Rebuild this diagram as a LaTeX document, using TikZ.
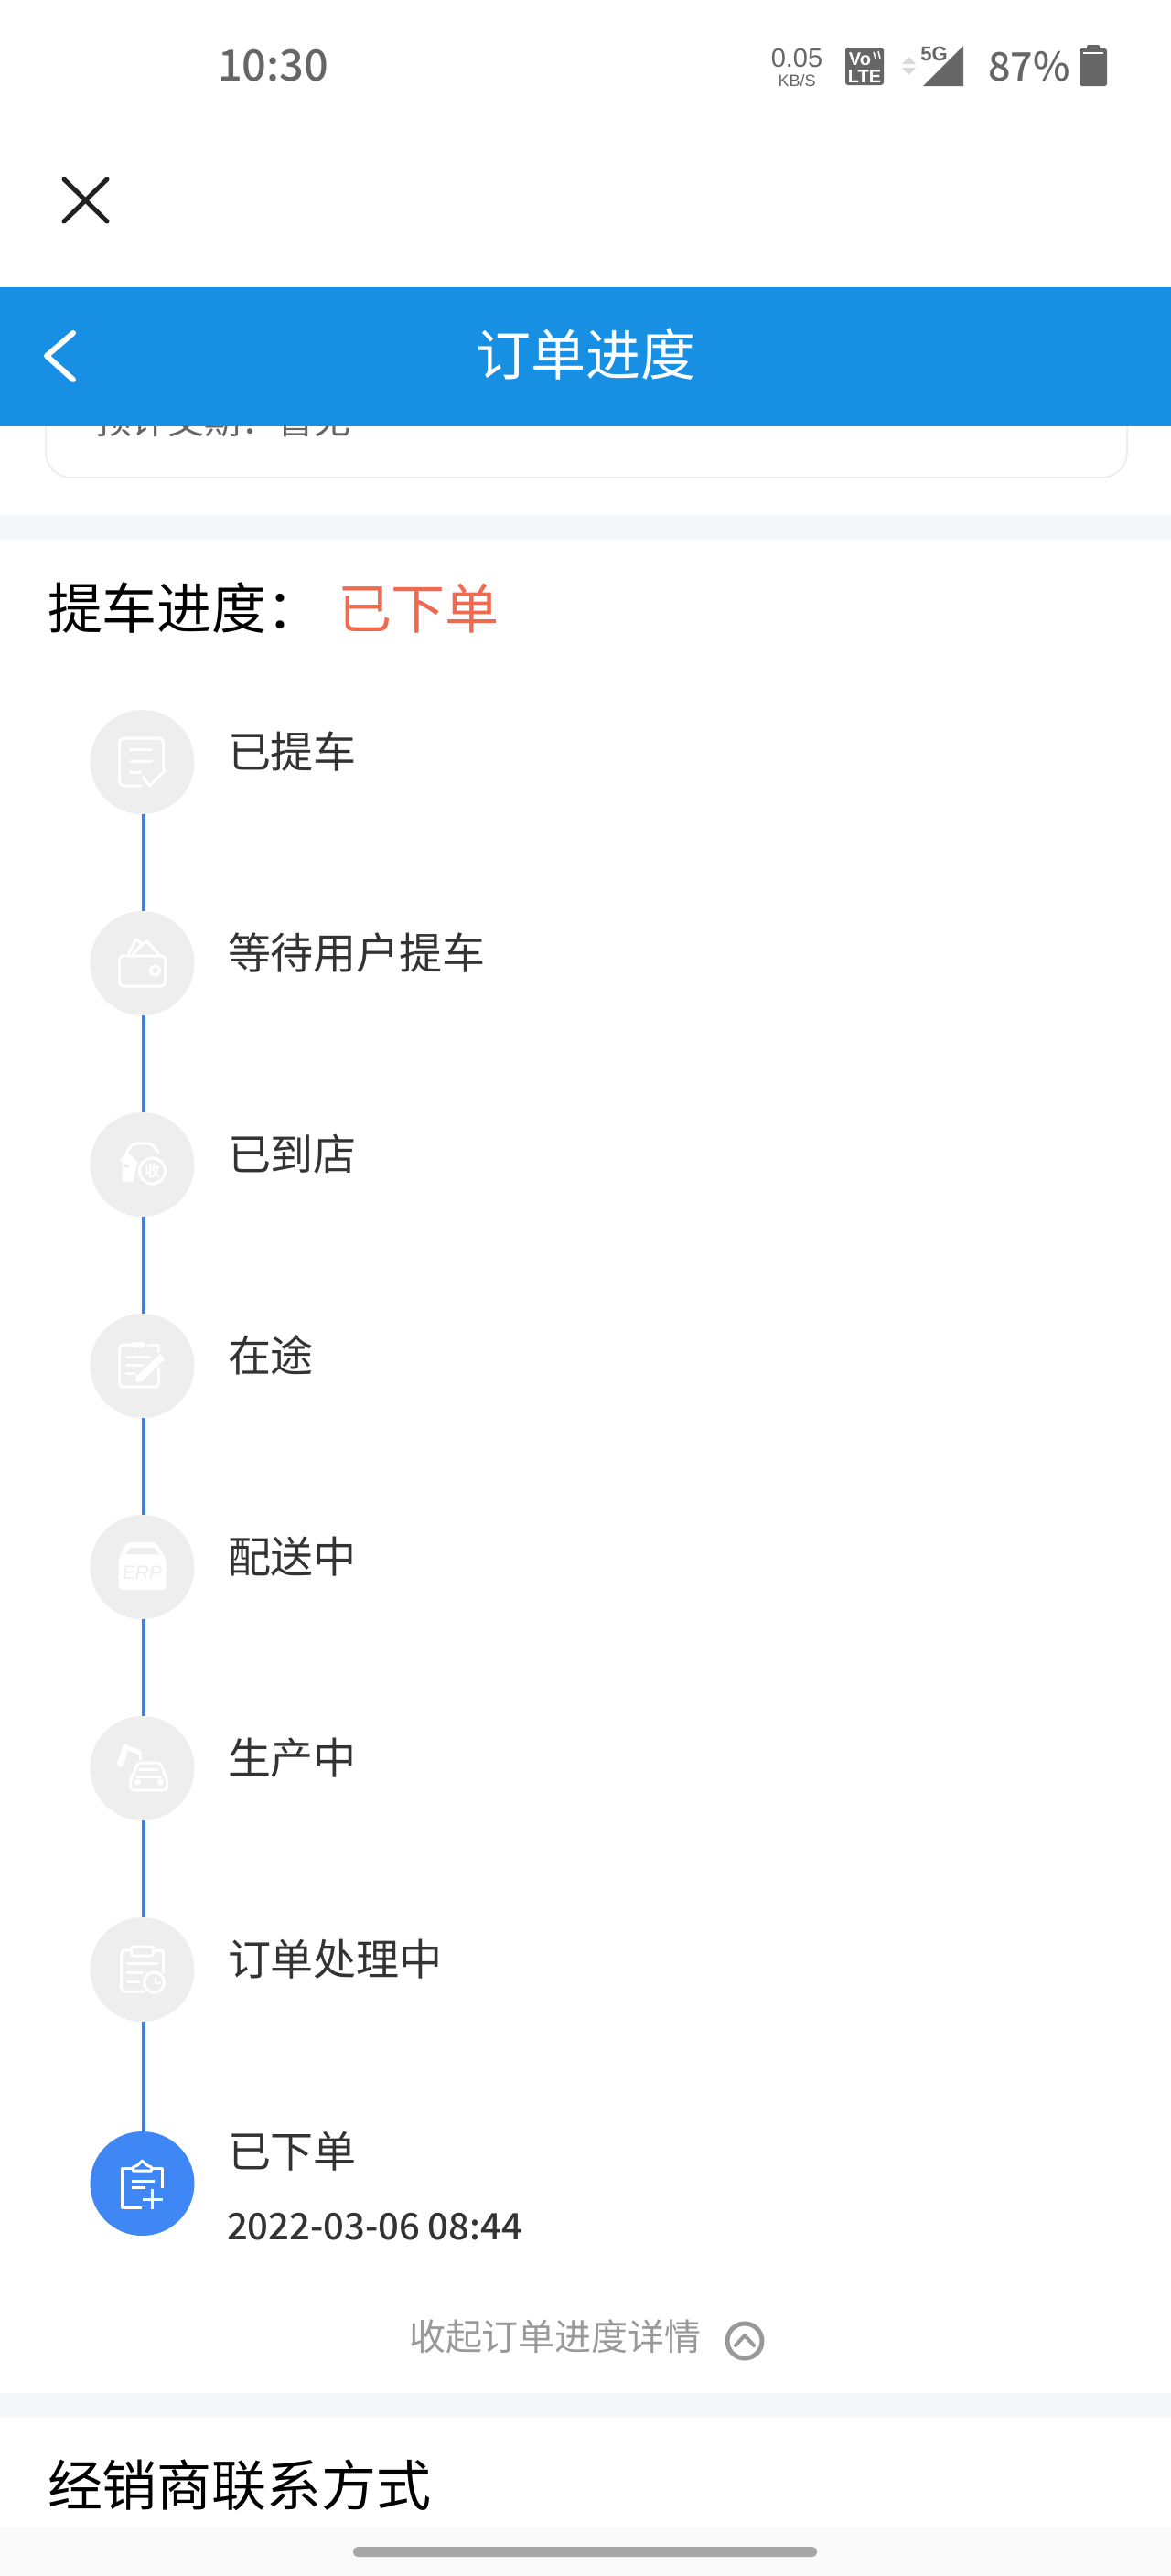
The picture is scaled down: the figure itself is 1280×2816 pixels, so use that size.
\documentclass[tikz,border=0pt]{standalone}
\usepackage{fontspec}
\setmainfont{Noto Sans CJK SC}
\newfontfamily\latinf{Liberation Sans}
\newfontfamily\latinm{Noto Sans CJK SC Medium}
\newfontfamily\cjkbold{Noto Sans CJK SC Bold}
\definecolor{hdrblue}{HTML}{1790E3}
\definecolor{linkblue}{HTML}{3D7FE8}
\definecolor{activeblue}{HTML}{3F87F5}
\definecolor{circgray}{HTML}{EEEEEE}
\definecolor{bandgray}{HTML}{F5F6F9}
\definecolor{footgray}{HTML}{FAFAFA}
\definecolor{statgray}{HTML}{666666}
\definecolor{labelgray}{HTML}{333333}
\definecolor{softgray}{HTML}{999999}
\definecolor{redtext}{HTML}{EE6A50}
\newcommand\fpx[1]{\pgfmathsetlengthmacro\fsz{#1*0.5691pt}\fontsize{\fsz}{\fsz}\selectfont}
\tikzset{
  x=0.02cm,y=-0.02cm,
  txt/.style={inner sep=0pt,outer sep=0pt,anchor=base west},
  label/.style={txt,text=labelgray,font=\fpx{47}},
  stepcirc/.style={circle,fill=circgray,minimum size=2.28cm,inner sep=0pt,outer sep=0pt},
  activecirc/.style={stepcirc,fill=activeblue},
  link/.style={draw=linkblue,line width=0.08cm,transform canvas={xshift=0.02cm}},
  icon/.style={draw=white,line width=0.06cm,line join=round,line cap=round,fill=none},
  iconfill/.style={fill=white,draw=none},
}
\begin{document}
\begin{tikzpicture}
\useasboundingbox (0,0) rectangle (1280,2816);
\fill[white] (0,0) rectangle (1280,2816);
% card behind header
\draw[draw=circgray,line width=0.04cm,rounded corners=0.55cm,fill=white] (50,400) rectangle (1232,522);
\node[txt,text=statgray,font=\fpx{40}] (clipped) at (104,474) {预计交期：暂无};
% header
\fill[white] (0,0) rectangle (1280,314);
\fill[hdrblue] (0,314) rectangle (1280,466);
\draw[white,line width=0.12cm,line cap=round,line join=round] (80,364) -- (51,389) -- (80,415);
\node[anchor=center,inner sep=0pt,text=white,font=\fpx{60}] (title) at (640,388) {订单进度};
% status
\node[txt,text=statgray,font={\latinm\fpx{47}}] (clock) at (238,88) {10:30};
\node[anchor=base,inner sep=0pt,text=statgray,font={\latinf\fpx{29}}] (speed) at (871,73) {0.05};
\node[anchor=base,inner sep=0pt,text=statgray,font={\latinf\fpx{18}}] (unit) at (871,94) {KB/S};
\fill[statgray,rounded corners=0.06cm] (924,52) rectangle (966,93);
\node[anchor=base,inner sep=0pt,text=white,font={\latinf\bfseries\fpx{20}}] (vo) at (940,71) {Vo};
\node[anchor=base,inner sep=0pt,text=white,font={\latinf\bfseries\fpx{20}}] (lte) at (945,90) {LTE};
\draw[white,line width=0.03cm] (955,57) -- (957,64) (960,56) -- (962,64);
\fill[black!15] (986,70) -- (993.5,62) -- (1001,70) -- cycle;
\fill[black!15] (986,74) -- (993.5,82) -- (1001,74) -- cycle;
\node[anchor=base west,inner sep=0pt,text=statgray,font={\latinf\bfseries\fpx{22}}] (fiveg) at (1006,66) {5G};
\fill[statgray] (1009,94) -- (1053,94) -- (1053,50) -- cycle;
\node[txt,text=statgray,font={\latinm\fpx{43}}] (pct) at (1080,88) {87\%};
\fill[statgray,rounded corners=0.05cm] (1180,53) rectangle (1210,94);
\fill[statgray,rounded corners=0.03cm] (1188,49) rectangle (1202,56);
\draw[white,line width=0.03cm] (1184,58) -- (1206,58);
% close
\draw[black!87,line width=0.1cm,line cap=round] (70,196) -- (117,242) (117,196) -- (70,242);
% bands
\fill[bandgray] (0,563) rectangle (1280,590);
\fill[bandgray] (0,2616) rectangle (1280,2642);
\fill[footgray] (0,2762) rectangle (1280,2816);
% headings
\node[txt,text=black,font=\fpx{60}] (h1) at (52,687) {提车进度：};
\node[txt,text=redtext,font=\fpx{59}] (h2) at (369,687) {已下单};
\node[txt,text=black,font=\fpx{60}] (h3) at (52,2739) {经销商联系方式};
% circles
\node[stepcirc] (c1) at (155.5,833) {};
\node[stepcirc] (c2) at (155.5,1053) {};
\node[stepcirc] (c3) at (155.5,1273) {};
\node[stepcirc] (c4) at (155.5,1493) {};
\node[stepcirc] (c5) at (155.5,1713) {};
\node[stepcirc] (c6) at (155.5,1933) {};
\node[stepcirc] (c7) at (155.5,2153) {};
\node[activecirc] (c8) at (155.5,2387) {};
\draw[link] (c1.south) -- (c2.north);
\draw[link] (c2.south) -- (c3.north);
\draw[link] (c3.south) -- (c4.north);
\draw[link] (c4.south) -- (c5.north);
\draw[link] (c5.south) -- (c6.north);
\draw[link] (c6.south) -- (c7.north);
\draw[link] (c7.south) -- (c8.north);
% labels
\node[label] (l1) at (249,839) {已提车};
\node[label] (l2) at (249,1059) {等待用户提车};
\node[label] (l3) at (249,1279) {已到店};
\node[label] (l4) at (249,1499) {在途};
\node[label] (l5) at (249,1719) {配送中};
\node[label] (l6) at (249,1939) {生产中};
\node[label] (l7) at (249,2159) {订单处理中};
\node[label] (l8) at (249,2369) {已下单};
\node[txt,text=labelgray,font={\latinm\fpx{40}}] (date) at (248,2448) {2022-03-06 08:44};
\node[txt,text=softgray,font=\fpx{40}] (collapse) at (447,2569) {收起订单进度详情};
\coordinate (chev) at (814,2559);
\draw[softgray,line width=0.1cm] (chev) circle[radius=19];
\draw[softgray,line width=0.08cm,line cap=round,line join=round] ([shift={(-10,5)}]chev) -- ([shift={(0,-6)}]chev) -- ([shift={(10,5)}]chev);
% icon 1
\begin{scope}[shift={(c1)}]
\draw[icon,rounded corners=0.1cm] (23,8) -- (23,-26) -- (-25,-26) -- (-25,26) -- (-2,26);
\draw[icon] (-13,-14) -- (10,-14) (-13,-1) -- (10,-1) (-13,11) -- (-2,11);
\draw[icon] (1,17) -- (8,26) -- (25,9);
\end{scope}
% icon 2
\begin{scope}[shift={(c2)}]
\draw[icon,rounded corners=0.08cm] (-25,-8) rectangle (25,25);
\draw[icon] (14,8) circle[radius=5];
\draw[icon] (-15,-10) -- (-7,-26) -- (0,-21) -- (5,-24) -- (18,-10) (-10,-10) -- (0,-21);
\end{scope}
% icon 3
\begin{scope}[shift={(c3)}]
\draw[icon] (11,7) circle[radius=14];
\draw[icon,rounded corners=0.08cm] (-17,-14) -- (-10,-23) -- (10,-23) -- (18,-13);
\fill[iconfill] (-17,-14) -- (-25,-4) -- (-22,-3) -- (-22,19) -- (-10,19) -- (-9,13) -- (-5,-2) -- (-12,-10) -- cycle;
\fill[circgray] (-20,-1) -- (-13,1) -- (-16,4) -- (-20,3) -- cycle;
\node[anchor=center,inner sep=0pt,text=white,font={\cjkbold\fpx{17}}] (shou) at (11,7) {收};
\end{scope}
% icon 4
\begin{scope}[shift={(c4)}]
\draw[icon,rounded corners=0.08cm] (-9,-23) -- (-25,-23) -- (-25,23) -- (18,23) -- (18,0);
\draw[icon] (6,-23) -- (18,-23) -- (18,-15);
\fill[iconfill,rounded corners=0.05cm] (-12,-26) rectangle (3,-20);
\draw[icon] (-17,-10) -- (8,-10) (-17,-1) -- (0,-1) (-17,8) -- (-8,8);
\draw[circgray,line width=0.24cm] (-3,14) -- (22,-10);
\draw[white,line width=0.16cm] (-3,14) -- (22,-10);
\fill[iconfill] (-7,18) -- (-6,9) -- (2,17) -- cycle;
\end{scope}
% icon 5
\begin{scope}[shift={(c5)}]
\fill[iconfill,rounded corners=0.08cm] (-17,-27) -- (15,-27) -- (26,-9) -- (26,25) -- (-26,25) -- (-26,-9) -- cycle;
\fill[circgray] (-18,-14) -- (18,-14) -- (13,-21) -- (-13,-21) -- cycle;
\node[anchor=center,inner sep=0pt,text=circgray,font={\latinf\itshape\fpx{21}}] (erp) at (0,6) {ERP};
\end{scope}
% icon 6
\begin{scope}[shift={(c6)}]
\draw[white,line width=0.14cm,line cap=round] (-24,-5) -- (-18,-23);
\draw[white,line width=0.1cm] (-18,-23) -- (-2,-17);
\draw[white,line width=0.06cm] (-2,-17) -- (-2,-9);
\draw[icon,rounded corners=0.08cm] (-10,8) -- (-5,-6) -- (20,-6) -- (25,8) -- (27,12) -- (27,24) -- (-13,24) -- (-13,12) -- cycle;
\draw[icon] (-6,9) -- (20,9) (-3,1) -- (17,1);
\fill[iconfill] (-5,15) circle[radius=3.5] (20,15) circle[radius=3.5];
\end{scope}
% icon 7
\begin{scope}[shift={(c7)}]
\draw[icon,rounded corners=0.08cm] (-12,-21) -- (-23,-21) -- (-23,24) -- (2,24);
\draw[icon] (12,-21) -- (23,-21) -- (23,3);
\draw[icon,rounded corners=0.06cm] (-12,-25) rectangle (12,-15);
\draw[icon] (-16,-7) -- (16,-7) (-16,3) -- (0,3) (-16,13) -- (-3,13);
\draw[icon,fill=circgray] (13,14) circle[radius=11];
\draw[icon,line width=0.04cm] (14,9) -- (14,15) -- (20,15);
\end{scope}
% icon 8
\begin{scope}[shift={(c8)}]
\draw[icon,line cap=butt] (22,5) -- (22,-17) -- (-22,-17) -- (-22,26) -- (-1,26);
\draw[icon,fill=activeblue] (-10,-14) -- (-10,-18) -- (-5,-20) -- (0,-25) -- (5,-20) -- (10,-18) -- (10,-14) -- cycle;
\draw[icon,line cap=butt] (-12,-3) -- (13,-3) (-12,4) -- (3,4);
\draw[icon,line cap=butt] (0,17) -- (22,17) (11,6) -- (11,28);
\end{scope}
% home bar
\fill[black!35,rounded corners=0.1cm] (386,2784) rectangle (893,2795);
\end{tikzpicture}
\end{document}
